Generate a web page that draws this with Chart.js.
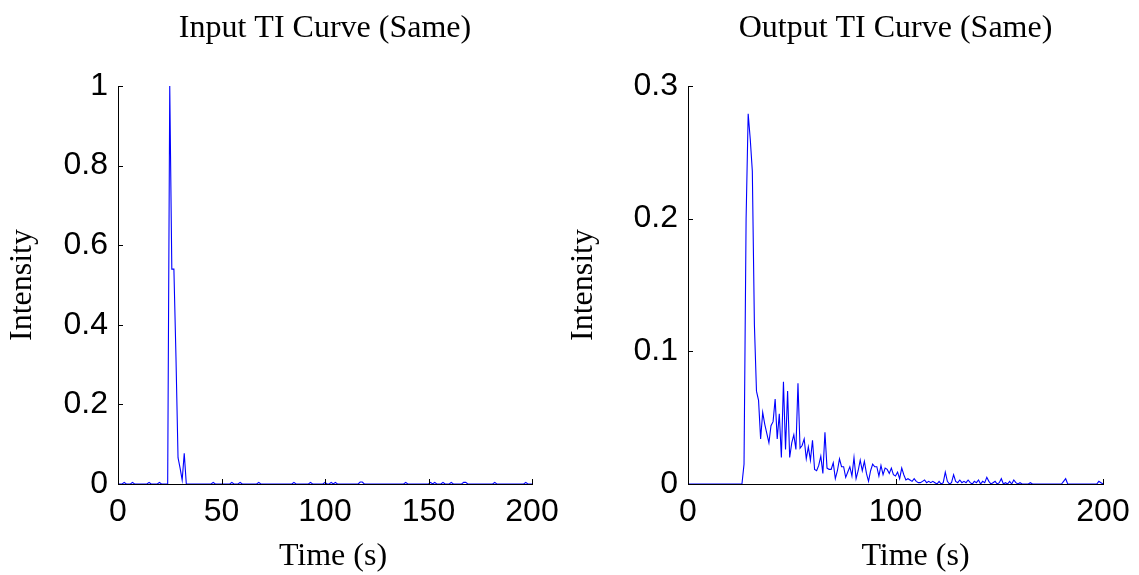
<!DOCTYPE html>
<html>
<head>
<meta charset="utf-8">
<title>TI Curves</title>
<script src="https://cdn.jsdelivr.net/npm/chart.js@4.4.1/dist/chart.umd.min.js"></script>
<style>
  body { margin: 0; background: #fff; }
  #wrap { position: relative; width: 1139px; height: 575px; }
  canvas { position: absolute; top: 0; }
</style>
</head>
<body>
<div id="wrap">
  <canvas id="inputCanvas" width="570" height="575" style="left:0px"></canvas>
  <canvas id="outputCanvas" width="578" height="575" style="left:561px"></canvas>
</div>
<script>
// sampling grid, 1 s steps
var times = [];
for (var t = 0; t <= 200; t++) times.push(t);

var inputValues = [
  0, 0, 0, 0.004, 0, 0, 0, 0.004, 0, 0,
  0, 0, 0, 0, 0, 0.004, 0, 0, 0, 0,
  0.004, 0, 0, 0, 0, 1.0, 0.54, 0.54, 0.32, 0.066,
  0.04, 0.01, 0.077, 0, 0, 0, 0, 0, 0, 0,
  0, 0, 0, 0, 0, 0, 0.004, 0, 0, 0,
  0, 0, 0, 0, 0, 0.004, 0, 0, 0, 0.004,
  0, 0, 0, 0, 0, 0, 0, 0, 0.004, 0,
  0, 0, 0, 0, 0, 0, 0, 0, 0, 0,
  0, 0, 0, 0, 0, 0.004, 0, 0, 0, 0,
  0, 0, 0, 0.004, 0, 0, 0, 0, 0, 0,
  0.004, 0, 0, 0.004, 0, 0.004, 0, 0, 0, 0,
  0, 0, 0, 0, 0, 0, 0, 0.005, 0.005, 0,
  0, 0, 0, 0, 0, 0, 0, 0, 0, 0,
  0, 0, 0, 0, 0, 0, 0, 0, 0, 0.004,
  0, 0, 0, 0, 0, 0, 0, 0, 0, 0,
  0, 0.004, 0, 0.004, 0, 0, 0, 0.004, 0, 0,
  0, 0.004, 0, 0, 0, 0, 0, 0.004, 0.004, 0,
  0, 0, 0, 0, 0, 0, 0, 0, 0, 0,
  0, 0, 0.004, 0, 0, 0, 0, 0, 0, 0,
  0, 0, 0, 0, 0, 0, 0, 0.004, 0, 0,
  0
];

var outputValues = [
  0, 0, 0, 0, 0, 0, 0, 0, 0, 0,
  0, 0, 0, 0, 0, 0, 0, 0, 0, 0,
  0, 0, 0, 0, 0, 0, 0, 0.015, 0.20, 0.279,
  0.26, 0.236, 0.12, 0.07, 0.063, 0.034, 0.054, 0.045, 0.038, 0.031,
  0.044, 0.047, 0.064, 0.034, 0.053, 0.020, 0.077, 0.026, 0.070, 0.020,
  0.031, 0.037, 0.026, 0.076, 0.027, 0.029, 0.034, 0.019, 0.028, 0.018,
  0.033, 0.011, 0.010, 0.014, 0.021, 0.008, 0.039, 0.012, 0.011, 0.011,
  0.016, 0.004, 0.010, 0.019, 0.013, 0.013, 0.005, 0.009, 0.013, 0.006,
  0.020, 0.004, 0.010, 0.018, 0.010, 0.017, 0.008, 0.002, 0.010, 0.015,
  0.013, 0.013, 0.006, 0.014, 0.007, 0.012, 0.011, 0.008, 0.012, 0.007,
  0.006, 0.009, 0.004, 0.012, 0.007, 0.003, 0.004, 0.003, 0.002, 0.004,
  0.002, 0.001, 0.001, 0.002, 0.003, 0.001, 0.002, 0.001, 0.002, 0.001,
  0, 0.002, 0, 0.001, 0.009, 0.002, 0, 0.001, 0.007, 0.002,
  0.001, 0.003, 0.001, 0.002, 0.001, 0.003, 0.001, 0, 0.002, 0.001,
  0.003, 0, 0.002, 0.001, 0.005, 0.002, 0, 0.001, 0.002, 0,
  0.001, 0.004, 0, 0.001, 0, 0.002, 0, 0.003, 0.001, 0,
  0.001, 0, 0, 0, 0, 0.001, 0, 0, 0, 0,
  0, 0, 0, 0, 0, 0, 0, 0, 0, 0,
  0, 0.002, 0.004, 0, 0, 0, 0, 0, 0, 0,
  0, 0, 0, 0, 0, 0, 0, 0, 0.002, 0.001,
  0
];

var inputYTicks = [0, 0.2, 0.4, 0.6, 0.8, 1];
var inputXTicks = [0, 50, 100, 150, 200];
var outputYTicks = [0, 0.1, 0.2, 0.3];
var outputXTicks = [0, 100, 200];

var serif = "'Liberation Serif', 'Times New Roman', serif";
var sans = "'Liberation Sans', Arial, sans-serif";

// small tick marks pointing into the plot, like the matlab axes
var inwardTicks = {
  id: 'inwardTicks',
  afterDraw: function(chart) {
    var ctx = chart.ctx;
    var area = chart.chartArea;
    var xs = chart.scales.x, ys = chart.scales.y;
    ctx.save();
    ctx.strokeStyle = '#000';
    ctx.lineWidth = 1;
    ctx.beginPath();
    xs.ticks.forEach(function(tk, i) {
      var px = Math.round(xs.getPixelForTick(i)) + 0.5;
      ctx.moveTo(px, area.bottom);
      ctx.lineTo(px, area.bottom - 5);
    });
    ys.ticks.forEach(function(tk, i) {
      var py = Math.round(ys.getPixelForTick(i)) + 0.5;
      ctx.moveTo(area.left, py);
      ctx.lineTo(area.left + 5, py);
    });
    ctx.stroke();
    ctx.restore();
  }
};

// x axis label, set a bit off the axis centre as in the original figure
var xLabel = {
  id: 'xLabel',
  afterDraw: function(chart, args, opts) {
    var ctx = chart.ctx;
    var area = chart.chartArea;
    ctx.save();
    ctx.fillStyle = '#000';
    ctx.font = '32px ' + serif;
    ctx.textAlign = 'center';
    ctx.textBaseline = 'middle';
    ctx.fillText(opts.text, (area.left + area.right) / 2 + opts.dx, opts.y);
    ctx.restore();
  }
};

function makeChart(id, title, values, yMax, yTicks, xTicks, yWidth, padRight, labelDx) {
  var ctx = document.getElementById(id);
  return new Chart(ctx, {
    type: 'line',
    data: {
      labels: times,
      datasets: [{
        data: values,
        borderColor: '#0000ff',
        borderWidth: 1.1,
        pointRadius: 0,
        tension: 0,
        fill: false
      }]
    },
    options: {
      responsive: false,
      animation: false,
      events: [],
      layout: { padding: { left: 0, right: padRight, top: 0, bottom: 0 } },
      plugins: {
        legend: { display: false },
        tooltip: { enabled: false },
        title: {
          display: true,
          text: title,
          fullSize: false,
          color: '#000',
          font: { family: serif, size: 32, weight: 'normal' },
          padding: { top: 9, bottom: 38.6 }
        },
        xLabel: { text: 'Time (s)', dx: labelDx, y: 557 }
      },
      scales: {
        x: {
          type: 'linear',
          min: 0,
          max: 200,
          afterBuildTicks: function(scale) {
            scale.ticks = xTicks.map(function(v) { return { value: v }; });
          },
          afterFit: function(scale) { scale.height = 91; },
          grid: { display: false, drawTicks: false },
          border: { display: true, color: '#000', width: 1 },
          ticks: {
            color: '#000',
            font: { family: sans, size: 32 },
            padding: 9,
            maxRotation: 0,
            autoSkip: false,
            callback: function(v) { return String(v); }
          },
          title: { display: false }
        },
        y: {
          min: 0,
          max: yMax,
          afterBuildTicks: function(scale) {
            scale.ticks = yTicks.map(function(v) { return { value: v }; });
          },
          afterFit: function(scale) { scale.width = yWidth; },
          grid: { display: false, drawTicks: false },
          border: { display: true, color: '#000', width: 1 },
          ticks: {
            color: '#000',
            font: { family: sans, size: 32 },
            padding: 10,
            autoSkip: false,
            callback: function(v) { return String(v); }
          },
          title: {
            display: true,
            text: 'Intensity',
            color: '#000',
            font: { family: serif, size: 32 },
            padding: { top: 3, bottom: 0 }
          }
        }
      }
    },
    plugins: [inwardTicks, xLabel]
  });
}

var inputChart = makeChart('inputCanvas', 'Input TI Curve (Same)', inputValues, 1, inputYTicks, inputXTicks, 118, 38, 8);
var outputChart = makeChart('outputCanvas', 'Output TI Curve (Same)', outputValues, 0.3, outputYTicks, outputXTicks, 127, 36, 20);
</script>
</body>
</html>
